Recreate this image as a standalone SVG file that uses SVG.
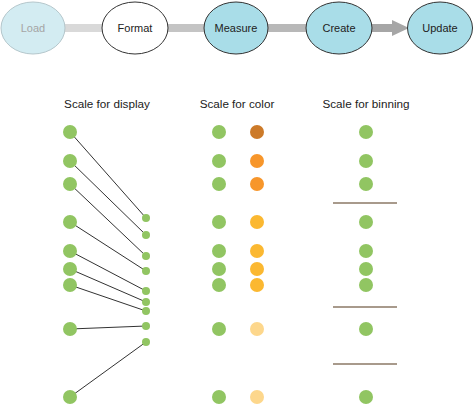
<svg xmlns="http://www.w3.org/2000/svg" width="474" height="405" viewBox="0 0 474 405">
<style>
text{font-family:"Liberation Sans",Arial,sans-serif;font-size:11px;fill:#222;text-anchor:middle}
.title{font-size:11.7px}
.st{fill:#A9DDE8;stroke:#333;stroke-width:1}
.big{fill:#91C562}
.sm{fill:#91C562}
.ln{stroke:#333;stroke-width:1}
.bin{stroke:#A89A8C;stroke-width:2}
</style>
<rect width="474" height="405" fill="#fff"/>
<g id="connectors">
<rect x="64" y="24" width="40" height="8" fill="#D9D9D9"/>
<rect x="167" y="24" width="40" height="8" fill="#C4C4C4"/>
<rect x="267" y="24" width="40" height="8" fill="#B8B8B8"/>
<rect x="371" y="24" width="22" height="8" fill="#A6A6A6"/>
<polygon points="392,20 409,28 392,36" fill="#A6A6A6"/>
</g>
<g id="load"><ellipse cx="33" cy="28" rx="32" ry="26" fill="#D3ECF2" stroke="#B5C7CC"/><text x="33" y="32" style="fill:#A5A5A5">Load</text></g>
<g id="format"><ellipse cx="135" cy="28" rx="33" ry="26" fill="#fff" stroke="#333"/><text x="135" y="32">Format</text></g>
<g id="measure"><ellipse cx="236" cy="28" rx="32" ry="26" class="st"/><text x="236" y="32">Measure</text></g>
<g id="create"><ellipse cx="339" cy="28" rx="33" ry="26" class="st"/><text x="339" y="32">Create</text></g>
<g id="update"><ellipse cx="440" cy="28" rx="32.5" ry="26" class="st"/><text x="440" y="32">Update</text></g>

<g id="display">
<text class="title" x="107" y="108">Scale for display</text>
<g class="ln">
<line x1="70" y1="132" x2="146" y2="218"/>
<line x1="70" y1="161" x2="146" y2="235"/>
<line x1="70" y1="184" x2="146" y2="256"/>
<line x1="70" y1="222" x2="146" y2="271"/>
<line x1="70" y1="251" x2="146" y2="291"/>
<line x1="70" y1="269" x2="146" y2="302"/>
<line x1="70" y1="285" x2="146" y2="311"/>
<line x1="70" y1="329" x2="146" y2="326"/>
<line x1="70" y1="397" x2="146" y2="342"/>
</g>
<g class="big">
<circle cx="70" cy="132" r="7"/><circle cx="70" cy="161" r="7"/><circle cx="70" cy="184" r="7"/>
<circle cx="70" cy="222" r="7"/><circle cx="70" cy="251" r="7"/><circle cx="70" cy="269" r="7"/>
<circle cx="70" cy="285" r="7"/><circle cx="70" cy="329" r="7"/><circle cx="70" cy="397" r="7"/>
</g>
<g class="sm">
<circle cx="146" cy="218" r="4"/><circle cx="146" cy="235" r="4"/><circle cx="146" cy="256" r="4"/>
<circle cx="146" cy="271" r="4"/><circle cx="146" cy="291" r="4"/><circle cx="146" cy="302" r="4"/>
<circle cx="146" cy="311" r="4"/><circle cx="146" cy="326" r="4"/><circle cx="146" cy="342" r="4"/>
</g>
</g>

<g id="color">
<text class="title" x="237" y="108">Scale for color</text>
<g class="big">
<circle cx="219" cy="132" r="7"/><circle cx="219" cy="161" r="7"/><circle cx="219" cy="184" r="7"/>
<circle cx="219" cy="222" r="7"/><circle cx="219" cy="251" r="7"/><circle cx="219" cy="269" r="7"/>
<circle cx="219" cy="285" r="7"/><circle cx="219" cy="329" r="7"/><circle cx="219" cy="397" r="7"/>
</g>
<circle cx="257" cy="132" r="7" fill="#CC7A29"/>
<circle cx="257" cy="161" r="7" fill="#F7962B"/>
<circle cx="257" cy="184" r="7" fill="#F7962B"/>
<circle cx="257" cy="222" r="7" fill="#FBB831"/>
<circle cx="257" cy="251" r="7" fill="#FBB831"/>
<circle cx="257" cy="269" r="7" fill="#FBB831"/>
<circle cx="257" cy="285" r="7" fill="#FBB831"/>
<circle cx="257" cy="329" r="7" fill="#FDD78C"/>
<circle cx="257" cy="397" r="7" fill="#FDD78C"/>
</g>

<g id="binning">
<text class="title" x="366" y="108">Scale for binning</text>
<g class="big">
<circle cx="366" cy="132" r="7"/><circle cx="366" cy="161" r="7"/><circle cx="366" cy="184" r="7"/>
<circle cx="366" cy="222" r="7"/><circle cx="366" cy="251" r="7"/><circle cx="366" cy="269" r="7"/>
<circle cx="366" cy="285" r="7"/><circle cx="366" cy="329" r="7"/><circle cx="366" cy="397" r="7"/>
</g>
<g class="bin">
<line x1="333" y1="203" x2="397" y2="203"/>
<line x1="333" y1="307" x2="397" y2="307"/>
<line x1="333" y1="364" x2="397" y2="364"/>
</g>
</g>
</svg>
